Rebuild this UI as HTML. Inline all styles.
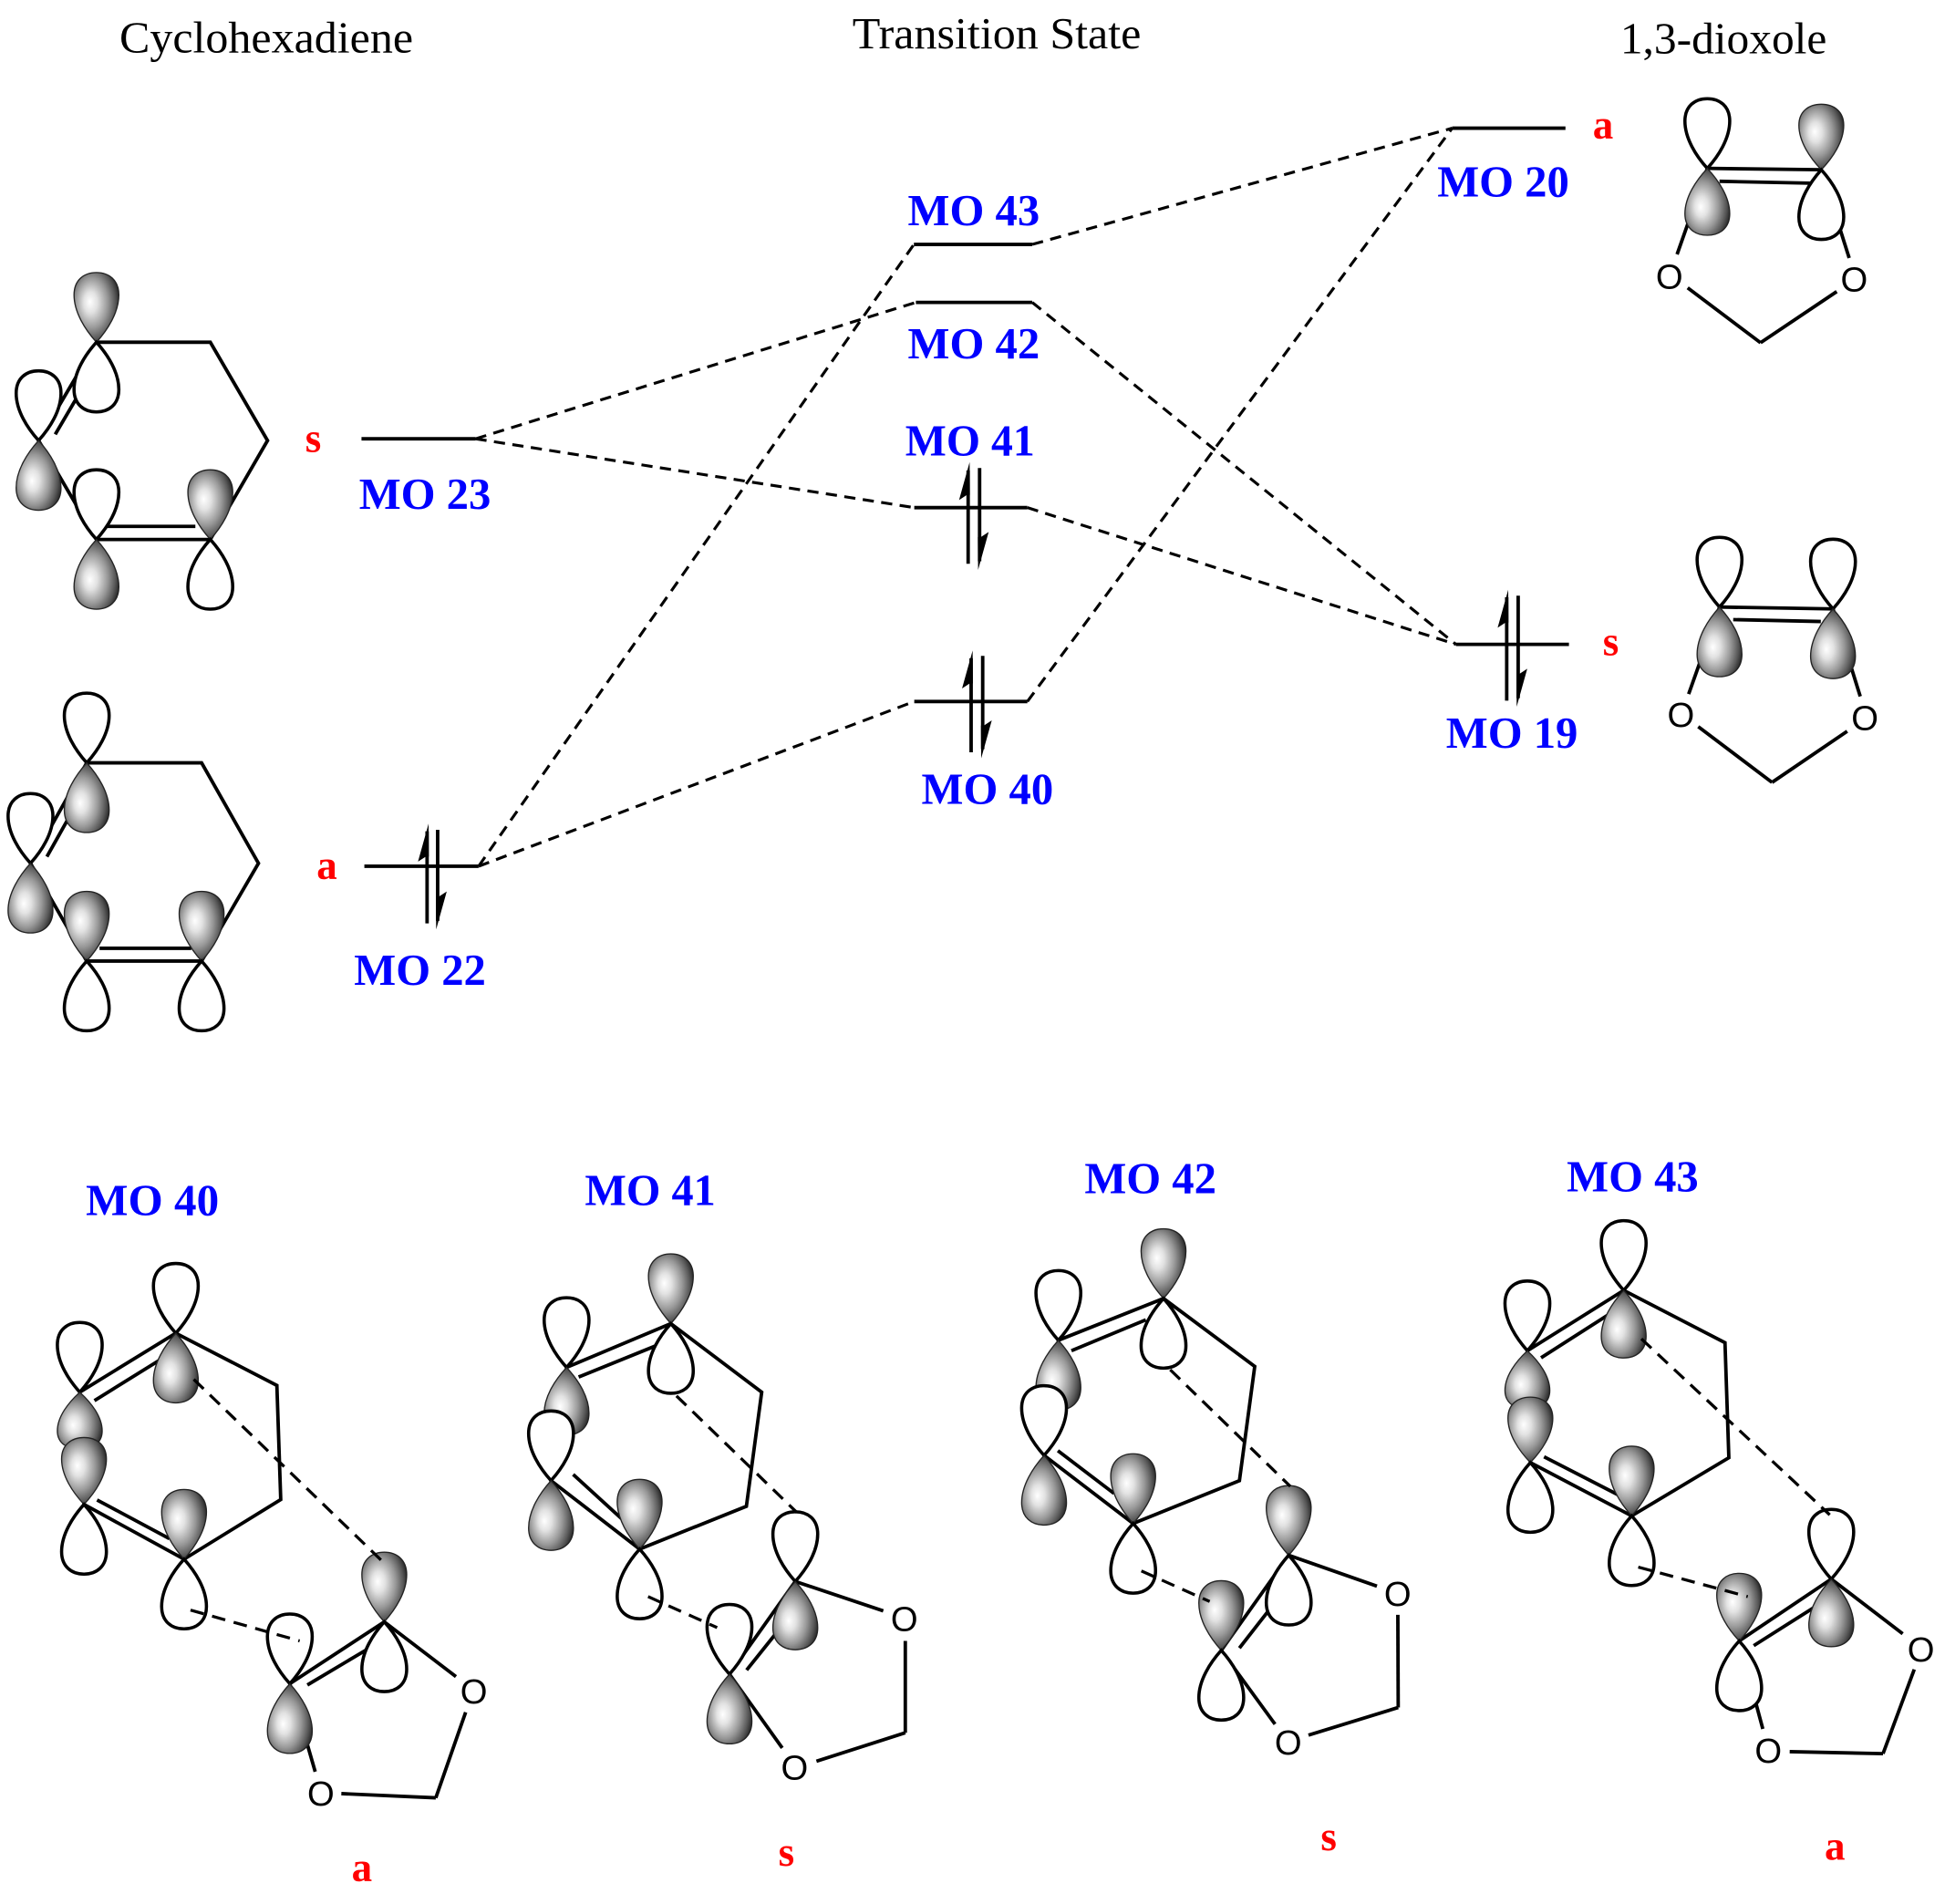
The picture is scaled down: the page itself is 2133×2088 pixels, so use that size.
<!DOCTYPE html>
<html><head><meta charset="utf-8"><style>
html,body{margin:0;padding:0;background:#fff;}
svg{display:block;}
.b{stroke:#000;stroke-width:2.8;fill:none;}
.d{stroke:#000;stroke-width:2.3;fill:none;stroke-dasharray:9 6;}
.d2{stroke:#000;stroke-width:2.4;fill:none;stroke-dasharray:11 7;}
.w{fill:#fff;stroke:#000;stroke-width:2.6;}
.s{fill:url(#g);stroke:#222;stroke-width:1;}
.t{font-family:"Liberation Serif",serif;font-size:36px;fill:#000;}
.m{font-family:"Liberation Serif",serif;font-size:35.5px;font-weight:bold;fill:#0000ff;}
.r{font-family:"Liberation Serif",serif;font-size:33px;font-weight:bold;fill:#ff0000;}
.o{font-family:"Liberation Sans",sans-serif;font-size:28px;fill:#000;text-anchor:middle;}
</style></head><body>
<svg width="2133" height="2088" viewBox="0 0 1563 1530" preserveAspectRatio="none" xmlns="http://www.w3.org/2000/svg">
<defs>
<radialGradient id="g" cx="0.42" cy="0.45" r="0.6" fx="0.35" fy="0.42">
<stop offset="0" stop-color="#ffffff"/>
<stop offset="0.25" stop-color="#e2e2e2"/>
<stop offset="0.6" stop-color="#989898"/>
<stop offset="0.85" stop-color="#585858"/>
<stop offset="1" stop-color="#2a2a2a"/>
</radialGradient>
<path id="L" d="M0,0 C-9,-10 -18,-24 -18,-38 C-18,-50 -10,-56 0,-56 C10,-56 18,-50 18,-38 C18,-24 9,-10 0,0 Z"/>
</defs>

<!-- Titles -->
<text class="t" x="96" y="42" textLength="236" lengthAdjust="spacingAndGlyphs">Cyclohexadiene</text>
<text class="t" x="685" y="39" textLength="232" lengthAdjust="spacingAndGlyphs">Transition State</text>
<text class="t" x="1302" y="43" textLength="166" lengthAdjust="spacingAndGlyphs">1,3-dioxole</text>

<!-- Correlation dashed lines -->
<line class="d" x1="384.6" y1="696.1" x2="734.4" y2="196.4"/>
<line class="d" x1="384.6" y1="696.1" x2="734.7" y2="563.7"/>
<line class="d" x1="382.1" y1="352.6" x2="736" y2="243"/>
<line class="d" x1="382.1" y1="352.6" x2="734.7" y2="407.9"/>
<line class="d" x1="829.5" y1="196.4" x2="1167" y2="103"/>
<line class="d" x1="825.6" y1="563.7" x2="1167" y2="103"/>
<line class="d" x1="829.5" y1="243" x2="1170" y2="517.8"/>
<line class="d" x1="825.6" y1="407.9" x2="1170" y2="517.8"/>

<!-- Energy levels -->
<g class="b">
<line x1="290.5" y1="352.6" x2="382.1" y2="352.6"/>
<line x1="292.8" y1="696.1" x2="384.6" y2="696.1"/>
<line x1="734.4" y1="196.4" x2="829.5" y2="196.4"/>
<line x1="736" y1="243" x2="829.5" y2="243"/>
<line x1="734.7" y1="407.9" x2="825.6" y2="407.9"/>
<line x1="734.7" y1="563.7" x2="825.6" y2="563.7"/>
<line x1="1167" y1="103" x2="1258" y2="103"/>
<line x1="1170" y1="517.8" x2="1260.8" y2="517.8"/>
</g>

<!-- Electron arrows -->
<g class="b">
<line x1="778" y1="453" x2="778" y2="378"/>
<line x1="787.2" y1="376.1" x2="787.2" y2="451"/>
<line x1="780.4" y1="604.5" x2="780.4" y2="529"/>
<line x1="789.7" y1="527" x2="789.7" y2="602"/>
<line x1="343.2" y1="742" x2="343.2" y2="668"/>
<line x1="351.7" y1="666.8" x2="351.7" y2="740"/>
<line x1="1210.8" y1="563" x2="1210.8" y2="480"/>
<line x1="1220" y1="478.7" x2="1220" y2="561"/>
</g>
<g fill="#000">
<polygon points="779.2,371.3 770.7,401.8 777,397.7 779.4,397.7"/>
<polygon points="786,458 794.5,427.5 788.2,431.6 785.8,431.6"/>
<polygon points="781.6,522.7 773.1,553.2 779.4,549.1 781.8,549.1"/>
<polygon points="788.5,609.4 797,578.9 790.7,583 788.3,583"/>
<polygon points="344.4,661.9 335.9,692.4 342.2,688.3 344.6,688.3"/>
<polygon points="350.5,746.9 359,716.4 352.7,720.5 350.3,720.5"/>
<polygon points="1212,473.9 1203.5,504.4 1209.8,500.3 1212.2,500.3"/>
<polygon points="1218.8,567.9 1227.3,537.4 1221,541.5 1218.6,541.5"/>
</g>

<!-- Level labels -->
<text class="m" x="288.5" y="409" textLength="106" lengthAdjust="spacingAndGlyphs">MO 23</text>
<text class="m" x="284.5" y="791.5" textLength="106" lengthAdjust="spacingAndGlyphs">MO 22</text>
<text class="m" x="729.5" y="181" textLength="106" lengthAdjust="spacingAndGlyphs">MO 43</text>
<text class="m" x="729.5" y="288" textLength="106" lengthAdjust="spacingAndGlyphs">MO 42</text>
<text class="m" x="727.5" y="366" textLength="104" lengthAdjust="spacingAndGlyphs">MO 41</text>
<text class="m" x="740.5" y="646" textLength="106" lengthAdjust="spacingAndGlyphs">MO 40</text>
<text class="m" x="1155" y="158" textLength="106" lengthAdjust="spacingAndGlyphs">MO 20</text>
<text class="m" x="1162" y="601" textLength="106" lengthAdjust="spacingAndGlyphs">MO 19</text>

<text class="r" x="245.3" y="363">s</text>
<text class="r" x="254.5" y="706.4">a</text>
<text class="r" x="1280" y="111.5">a</text>
<text class="r" x="1288" y="526.6">s</text>

<!-- Top cyclohexadiene (MO 23) -->
<path class="b" d="M77.5,275 L169,275 L215,354 L169,433.5 L77.5,433.5 L31,354 Z"/>
<line class="b" x1="86" y1="423" x2="157" y2="423"/>
<line class="b" x1="44.4" y1="349" x2="79.7" y2="289"/>
<use href="#L" class="s" transform="translate(77.5,275)"/>
<use href="#L" class="w" transform="translate(77.5,275) scale(1,-1)"/>
<use href="#L" class="w" transform="translate(31,354)"/>
<use href="#L" class="s" transform="translate(31,354) scale(1,-1)"/>
<use href="#L" class="w" transform="translate(77.5,433.5)"/>
<use href="#L" class="s" transform="translate(77.5,433.5) scale(1,-1)"/>
<use href="#L" class="s" transform="translate(169,433.5)"/>
<use href="#L" class="w" transform="translate(169,433.5) scale(1,-1)"/>

<!-- Bottom cyclohexadiene (MO 22) -->
<path class="b" d="M69.7,613 L162,613 L207.7,693.7 L162,772.3 L69.7,772.3 L24.5,693.7 Z"/>
<line class="b" x1="80" y1="762" x2="153.7" y2="762"/>
<line class="b" x1="37.7" y1="688.4" x2="72.1" y2="627.1"/>
<use href="#L" class="w" transform="translate(69.7,613)"/>
<use href="#L" class="s" transform="translate(69.7,613) scale(1,-1)"/>
<use href="#L" class="w" transform="translate(24.5,693.7)"/>
<use href="#L" class="s" transform="translate(24.5,693.7) scale(1,-1)"/>
<use href="#L" class="s" transform="translate(69.7,772.3)"/>
<use href="#L" class="w" transform="translate(69.7,772.3) scale(1,-1)"/>
<use href="#L" class="s" transform="translate(162,772.3)"/>
<use href="#L" class="w" transform="translate(162,772.3) scale(1,-1)"/>

<!-- Dioxole MO 20 -->
<g class="b">
<line x1="1372" y1="135.3" x2="1463.6" y2="136.4"/>
<line x1="1381.8" y1="145.7" x2="1455" y2="147.2"/>
<line x1="1372" y1="135.3" x2="1347.7" y2="204.4"/>
<line x1="1463.6" y1="136.4" x2="1486" y2="207.3"/>
<line x1="1356.2" y1="231.3" x2="1414.8" y2="275.4"/>
<line x1="1476" y1="234.3" x2="1414.8" y2="275.4"/>
</g>
<use href="#L" class="w" transform="translate(1372,135.3)"/>
<use href="#L" class="s" transform="translate(1372,135.3) scale(1,-0.96)"/>
<use href="#L" class="s" transform="translate(1463.6,136.4) scale(1,0.94)"/>
<use href="#L" class="w" transform="translate(1463.6,136.4) scale(1,-1)"/>
<text class="o" x="1341.5" y="232">O</text>
<text class="o" x="1490" y="234">O</text>

<!-- Dioxole MO 19 -->
<g class="b">
<line x1="1381.8" y1="487.8" x2="1473" y2="489.3"/>
<line x1="1392.8" y1="497.9" x2="1463.2" y2="499.4"/>
<line x1="1381.8" y1="487.8" x2="1357" y2="557.7"/>
<line x1="1473" y1="489.3" x2="1494.9" y2="559.6"/>
<line x1="1364.7" y1="583.9" x2="1424" y2="628.7"/>
<line x1="1484.4" y1="587.6" x2="1424" y2="628.7"/>
</g>
<use href="#L" class="w" transform="translate(1381.8,487.8)"/>
<use href="#L" class="s" transform="translate(1381.8,487.8) scale(1,-1)"/>
<use href="#L" class="w" transform="translate(1473,489.3)"/>
<use href="#L" class="s" transform="translate(1473,489.3) scale(1,-1)"/>
<text class="o" x="1350.8" y="584">O</text>
<text class="o" x="1498.6" y="586.5">O</text>

<!-- Bottom labels -->
<text class="m" x="69" y="976.5" textLength="107" lengthAdjust="spacingAndGlyphs">MO 40</text>
<text class="m" x="470" y="968.5" textLength="105" lengthAdjust="spacingAndGlyphs">MO 41</text>
<text class="m" x="871.5" y="959" textLength="106" lengthAdjust="spacingAndGlyphs">MO 42</text>
<text class="m" x="1259" y="957.5" textLength="106" lengthAdjust="spacingAndGlyphs">MO 43</text>
<text class="r" x="282.6" y="1511.6">a</text>
<text class="r" x="625.5" y="1499.4">s</text>
<text class="r" x="1061.3" y="1486.8">s</text>
<text class="r" x="1466.3" y="1494.4">a</text>

<!-- MO 40 panel -->
<path class="b" d="M141.3,1071.3 L64.1,1118.7 L67.5,1208.9 L147.9,1252.9 L225.6,1205 L222.5,1113.3 Z"/>
<line class="b" x1="75.9" y1="1125.5" x2="128.2" y2="1093"/>
<line class="b" x1="78" y1="1205.3" x2="136.1" y2="1236.4"/>
<g class="b">
<line x1="232.9" y1="1353" x2="308.8" y2="1303.3"/>
<line x1="247" y1="1354" x2="294" y2="1326"/>
<line x1="308.8" y1="1303.3" x2="366.4" y2="1347.3"/>
<line x1="374.2" y1="1375.9" x2="350.2" y2="1444.7"/>
<line x1="350.2" y1="1444.7" x2="274.3" y2="1441.3"/>
<line x1="253.3" y1="1423.7" x2="232.9" y2="1353"/>
</g>
<use href="#L" class="w" transform="translate(141.3,1071.3)"/>
<use href="#L" class="s" transform="translate(141.3,1071.3) scale(1,-1)"/>
<use href="#L" class="w" transform="translate(64.1,1118.7)"/>
<use href="#L" class="s" transform="translate(64.1,1118.7) scale(1,-0.82)"/>
<use href="#L" class="s" transform="translate(67.5,1208.9) scale(1,0.96)"/>
<use href="#L" class="w" transform="translate(67.5,1208.9) scale(1,-1)"/>
<use href="#L" class="s" transform="translate(147.9,1252.9)"/>
<use href="#L" class="w" transform="translate(147.9,1252.9) scale(1,-1)"/>
<use href="#L" class="s" transform="translate(308.8,1303.3)"/>
<use href="#L" class="w" transform="translate(308.8,1303.3) scale(1,-1)"/>
<use href="#L" class="w" transform="translate(232.9,1353)"/>
<use href="#L" class="s" transform="translate(232.9,1353) scale(1,-1)"/>
<line class="d2" x1="155.7" y1="1108.4" x2="306.2" y2="1253.6"/>
<line class="d2" x1="153.1" y1="1293.8" x2="240.8" y2="1318.6"/>
<text class="o" x="380.8" y="1368.7">O</text>
<text class="o" x="257.8" y="1450.9">O</text>

<!-- MO 41 panel -->
<path class="b" d="M539.1,1063.6 L455.3,1098.8 L442.8,1189.8 L514,1244.8 L599.8,1210.4 L612.1,1118.7 Z"/>
<line class="b" x1="465" y1="1106.5" x2="526.6" y2="1081.6"/>
<line class="b" x1="460.6" y1="1184.8" x2="500.4" y2="1221.2"/>
<g class="b">
<line x1="586.2" y1="1345.3" x2="639.1" y2="1270.8"/>
<line x1="600" y1="1342" x2="624" y2="1312"/>
<line x1="639.1" y1="1270.8" x2="709.8" y2="1294.5"/>
<line x1="727.5" y1="1318.6" x2="727.5" y2="1392.4"/>
<line x1="727.5" y1="1392.4" x2="656.1" y2="1415.3"/>
<line x1="628.6" y1="1404.6" x2="586.2" y2="1345.3"/>
</g>
<use href="#L" class="s" transform="translate(539.1,1063.6)"/>
<use href="#L" class="w" transform="translate(539.1,1063.6) scale(1,-1)"/>
<use href="#L" class="w" transform="translate(455.3,1098.8)"/>
<use href="#L" class="s" transform="translate(455.3,1098.8) scale(1,-0.97)"/>
<use href="#L" class="w" transform="translate(442.8,1189.8)"/>
<use href="#L" class="s" transform="translate(442.8,1189.8) scale(1,-1)"/>
<use href="#L" class="s" transform="translate(514,1244.8)"/>
<use href="#L" class="w" transform="translate(514,1244.8) scale(1,-1)"/>
<use href="#L" class="w" transform="translate(639.1,1270.8)"/>
<use href="#L" class="s" transform="translate(639.1,1270.8) scale(1,-0.98)"/>
<use href="#L" class="w" transform="translate(586.2,1345.3)"/>
<use href="#L" class="s" transform="translate(586.2,1345.3) scale(1,-1)"/>
<line class="d2" x1="543.6" y1="1121.7" x2="640.4" y2="1215.4"/>
<line class="d2" x1="520.8" y1="1283" x2="576.3" y2="1307.9"/>
<text class="o" x="726.7" y="1310.6">O</text>
<text class="o" x="638.5" y="1429.9">O</text>

<!-- MO 42 panel -->
<path class="b" d="M935,1043.4 L850.5,1077 L839,1169.5 L910.6,1224.2 L996,1189.8 L1008.3,1098 Z"/>
<line class="b" x1="861" y1="1085.4" x2="920.8" y2="1060.6"/>
<line class="b" x1="850.1" y1="1165.7" x2="895.2" y2="1200.1"/>
<g class="b">
<line x1="981.4" y1="1326.2" x2="1035.6" y2="1249.8"/>
<line x1="996" y1="1324.3" x2="1019.8" y2="1293.8"/>
<line x1="1035.6" y1="1249.8" x2="1106.5" y2="1274.6"/>
<line x1="1123.3" y1="1297.6" x2="1123.6" y2="1372.1"/>
<line x1="1123.6" y1="1372.1" x2="1051.5" y2="1394.3"/>
<line x1="1024.6" y1="1385.5" x2="981.4" y2="1326.2"/>
</g>
<use href="#L" class="s" transform="translate(935,1043.4)"/>
<use href="#L" class="w" transform="translate(935,1043.4) scale(1,-1)"/>
<use href="#L" class="w" transform="translate(850.5,1077)"/>
<use href="#L" class="s" transform="translate(850.5,1077) scale(1,-1)"/>
<use href="#L" class="w" transform="translate(839,1169.5)"/>
<use href="#L" class="s" transform="translate(839,1169.5) scale(1,-1)"/>
<use href="#L" class="s" transform="translate(910.6,1224.2)"/>
<use href="#L" class="w" transform="translate(910.6,1224.2) scale(1,-1)"/>
<use href="#L" class="s" transform="translate(1035.6,1249.8)"/>
<use href="#L" class="w" transform="translate(1035.6,1249.8) scale(1,-1)"/>
<use href="#L" class="s" transform="translate(981.4,1326.2)"/>
<use href="#L" class="w" transform="translate(981.4,1326.2) scale(1,-1)"/>
<line class="d2" x1="940.4" y1="1100.7" x2="1036.9" y2="1194.4"/>
<line class="d2" x1="917.2" y1="1262.4" x2="972.1" y2="1286.9"/>
<text class="o" x="1123.1" y="1290.4">O</text>
<text class="o" x="1035.2" y="1410">O</text>

<!-- MO 43 panel -->
<path class="b" d="M1304.8,1036.9 L1227.4,1085.4 L1229.8,1175.3 L1311.2,1218.1 L1389.3,1171.4 L1386.2,1078.9 Z"/>
<line class="b" x1="1238.4" y1="1091.1" x2="1292.1" y2="1056.7"/>
<line class="b" x1="1240.8" y1="1170.6" x2="1301.9" y2="1202"/>
<g class="b">
<line x1="1397.6" y1="1318.6" x2="1471.6" y2="1268.9"/>
<line x1="1409.3" y1="1322.4" x2="1460.6" y2="1289.9"/>
<line x1="1471.6" y1="1268.9" x2="1529" y2="1312.8"/>
<line x1="1538.3" y1="1341.5" x2="1513.2" y2="1409.2"/>
<line x1="1513.2" y1="1409.2" x2="1438.2" y2="1407.6"/>
<line x1="1416.6" y1="1389.3" x2="1397.6" y2="1318.6"/>
</g>
<use href="#L" class="w" transform="translate(1304.8,1036.9)"/>
<use href="#L" class="s" transform="translate(1304.8,1036.9) scale(1,-0.97)"/>
<use href="#L" class="w" transform="translate(1227.4,1085.4)"/>
<use href="#L" class="s" transform="translate(1227.4,1085.4) scale(1,-0.84)"/>
<use href="#L" class="s" transform="translate(1229.8,1175.3) scale(1,0.94)"/>
<use href="#L" class="w" transform="translate(1229.8,1175.3) scale(1,-1)"/>
<use href="#L" class="s" transform="translate(1311.2,1218.1)"/>
<use href="#L" class="w" transform="translate(1311.2,1218.1) scale(1,-1)"/>
<use href="#L" class="w" transform="translate(1471.6,1268.9)"/>
<use href="#L" class="s" transform="translate(1471.6,1268.9) scale(1,-0.97)"/>
<use href="#L" class="s" transform="translate(1397.6,1318.6) scale(1,0.97)"/>
<use href="#L" class="w" transform="translate(1397.6,1318.6) scale(1,-1)"/>
<line class="d2" x1="1319" y1="1075.8" x2="1470.4" y2="1217.3"/>
<line class="d2" x1="1316.5" y1="1259.3" x2="1404.5" y2="1283"/>
<text class="o" x="1543.7" y="1335.1">O</text>
<text class="o" x="1421" y="1416.5">O</text>

</svg>
</body></html>
